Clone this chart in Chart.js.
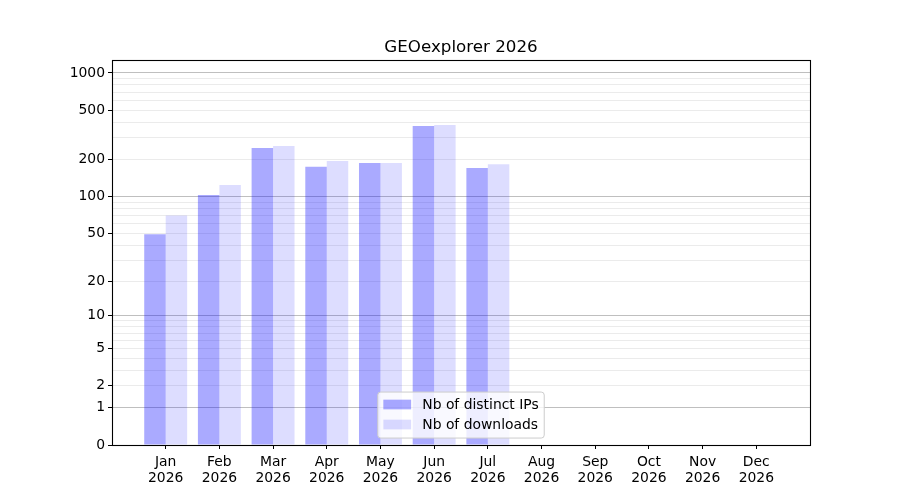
<!DOCTYPE html>
<html>
<head>
<meta charset="utf-8">
<script src="https://cdn.jsdelivr.net/npm/chart.js@4/dist/chart.umd.min.js"></script>
<style>
  html, body { margin: 0; padding: 0; background: #fff; }
  #wrap { width: 900px; height: 500px; position: relative; }
</style>
</head>
<body>
<div id="wrap"><canvas id="c" width="900" height="500"></canvas></div>
<script>
// ---- data ----
const chartTitle = 'GEOexplorer 2026';
const months = ['Jan','Feb','Mar','Apr','May','Jun','Jul','Aug','Sep','Oct','Nov','Dec'];
const yearLabel = '2026';
const distinctIPs = [49, 103, 247, 174, 187, 373, 170];
const downloads   = [70, 124, 257, 194, 187, 380, 183];
const seriesNames = ['Nb of distinct IPs', 'Nb of downloads'];
const yTickLabels = [0, 1, 2, 5, 10, 20, 50, 100, 200, 500, 1000];
const yMajorGrid  = [1, 10, 100, 1000];
const yMinorGrid  = [2,3,4,5,6,7,8,9,20,30,40,50,60,70,80,90,200,300,400,500,600,700,800,900];

const FONT = 'DejaVu Sans';
const f1p = v => Math.log10(1 + Math.max(v, 0));

class Log1pScale extends Chart.LinearScale {
  getPixelForValue(value) {
    const a = f1p(this.min), b = f1p(this.max);
    return this.getPixelForDecimal((f1p(value) - a) / (b - a));
  }
  getValueForPixel(pixel) {
    const a = f1p(this.min), b = f1p(this.max);
    const d = this.getDecimalForPixel(pixel);
    return Math.pow(10, a + d * (b - a)) - 1;
  }
  buildTicks() {
    const all = Array.from(new Set([0, ...yMajorGrid, ...yMinorGrid, ...yTickLabels])).sort((p, q) => p - q);
    return all.map(v => ({ value: v }));
  }
}
Log1pScale.id = 'log1p';
Log1pScale.defaults = {};
Chart.register(Log1pScale);

const framePlugin = {
  id: 'frame',
  afterDraw(chart) {
    const { ctx, chartArea: a } = chart;
    ctx.save();
    // box
    ctx.strokeStyle = '#000';
    ctx.lineWidth = 1.1;
    ctx.strokeRect(Math.round(a.left) + 0.5, Math.round(a.top) + 0.5,
                   Math.round(a.right - a.left), Math.round(a.bottom - a.top));
    // title
    ctx.fillStyle = '#000';
    ctx.font = '16.7px "' + FONT + '"';
    ctx.textAlign = 'center';
    ctx.textBaseline = 'alphabetic';
    ctx.fillText(chartTitle, (a.left + a.right) / 2, 52);
    // legend (lower center inside plot)
    const fs = 13.9;
    ctx.font = fs + 'px "' + FONT + '"';
    const dsets = chart.data.datasets;
    let tw = 0;
    dsets.forEach(d => { tw = Math.max(tw, ctx.measureText(d.label).width); });
    const pad = 0.4 * fs, hl = 2 * fs, htp = 0.8 * fs;
    const w = pad + hl + htp + tw + pad;
    const h = 46;
    const cx = (a.left + a.right) / 2;
    const bx = cx - w / 2;
    const by = a.bottom - 0.5 * fs - h;
    ctx.beginPath();
    if (ctx.roundRect) ctx.roundRect(bx, by, w, h, 3); else ctx.rect(bx, by, w, h);
    ctx.fillStyle = 'rgba(255,255,255,0.8)';
    ctx.fill();
    ctx.strokeStyle = '#cccccc';
    ctx.lineWidth = 1;
    ctx.stroke();
    const rows = [by + 12.5, by + 32.5];
    dsets.forEach((d, i) => {
      ctx.fillStyle = d.backgroundColor;
      ctx.fillRect(bx + pad, rows[i] - 4.9, hl, 9.7);
      ctx.fillStyle = '#000';
      ctx.textAlign = 'left';
      ctx.textBaseline = 'middle';
      ctx.fillText(d.label, bx + pad + hl + htp, rows[i] + 0.5);
    });
    ctx.restore();
  }
};

new Chart(document.getElementById('c'), {
  type: 'bar',
  data: {
    datasets: [
      { label: seriesNames[0], data: distinctIPs.map((v, i) => ({ x: i, y: v })),
        backgroundColor: 'rgba(0,0,255,0.333)', borderWidth: 0,
        categoryPercentage: 0.8, barPercentage: 1.0 },
      { label: seriesNames[1], data: downloads.map((v, i) => ({ x: i, y: v })),
        backgroundColor: 'rgba(0,0,255,0.133)', borderWidth: 0,
        categoryPercentage: 0.8, barPercentage: 1.0 }
    ]
  },
  options: {
    responsive: false,
    animation: false,
    devicePixelRatio: 1,
    layout: { padding: { left: 0, right: 90, top: 60, bottom: 0 } },
    plugins: { legend: { display: false }, title: { display: false }, tooltip: { enabled: false } },
    scales: {
      x: {
        type: 'linear', min: -1, max: 12, offset: false,
        afterBuildTicks: s => { s.ticks = months.map((m, i) => ({ value: i })); },
        afterFit: s => { s.height = 55; },
        ticks: {
          autoSkip: false, maxRotation: 0, minRotation: 0, padding: 5,
          color: '#000', font: { family: FONT, size: 13.9, lineHeight: 1.15 },
          callback: v => [months[v], yearLabel]
        },
        grid: { display: true, drawOnChartArea: false, offset: false, tickLength: 4, tickColor: '#000', tickWidth: 1 },
        border: { display: false }
      },
      y: {
        type: 'log1p', min: 0, max: 1272,
        afterFit: s => { s.width = 112; },
        ticks: {
          autoSkip: false, padding: 3, color: '#000',
          font: { family: FONT, size: 13.9 },
          callback: v => (yTickLabels.includes(v) ? String(v) : '')
        },
        grid: {
          drawOnChartArea: true, tickLength: 4, lineWidth: 1, tickWidth: 1,
          color: c => {
            const v = c.tick ? c.tick.value : null;
            if (v === 0) return 'rgba(0,0,0,0)';
            return yMajorGrid.includes(v) ? 'rgba(0,0,0,0.25)' : 'rgba(0,0,0,0.08)';
          },
          tickColor: c => (c.tick && yTickLabels.includes(c.tick.value) ? '#000' : 'rgba(0,0,0,0)')
        },
        border: { display: false }
      }
    }
  },
  plugins: [framePlugin]
});
</script>
</body>
</html>
